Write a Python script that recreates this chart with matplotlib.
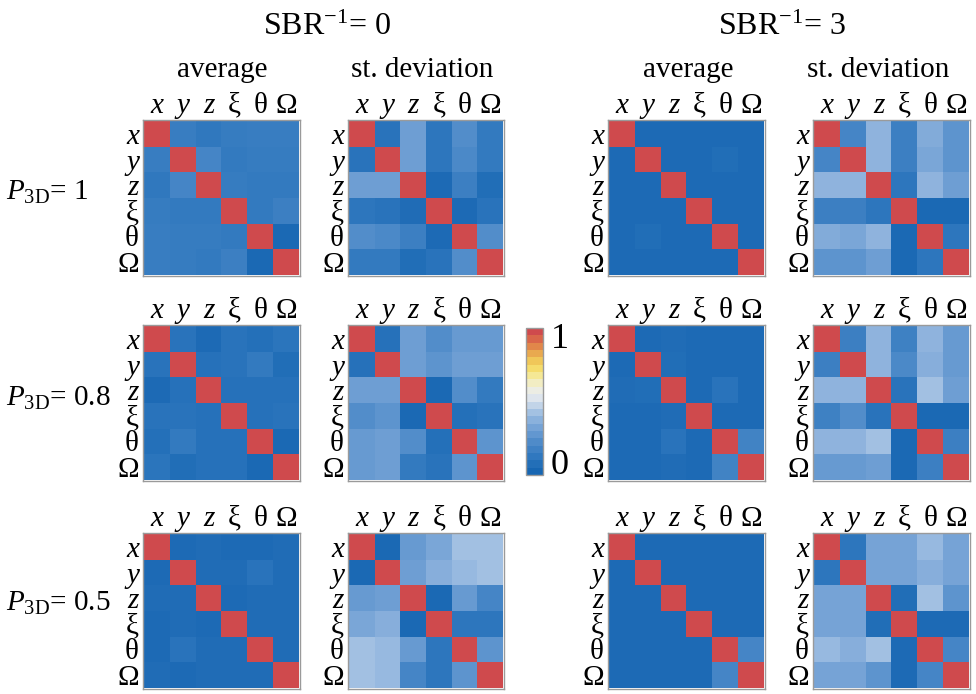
import numpy as np
import matplotlib
matplotlib.use("Agg")
import matplotlib.pyplot as plt
from matplotlib.colors import LinearSegmentedColormap, Normalize
from matplotlib.cm import ScalarMappable

plt.rcParams.update(
    {
        "font.family": ["Liberation Serif", "DejaVu Serif"],
        "mathtext.fontset": "custom",
        "mathtext.rm": "Liberation Serif",
        "mathtext.it": "Liberation Serif:italic",
    }
)

# ---- data ---------------------------------------------------------------
params = ["x", "y", "z", "ξ", "θ", "Ω"]
sbr_labels = [r"SBR$^{-1}$= 0", r"SBR$^{-1}$= 3"]
stat_labels = ["average", "st. deviation"]
p3d_labels = [r"$P_{\rm 3D}$= 1", r"$P_{\rm 3D}$= 0.8", r"$P_{\rm 3D}$= 0.5"]

# P3D = 1
avg_p1_sbr0 = [
    [1.00, 0.14, 0.11, 0.13, 0.14, 0.14],
    [0.14, 1.00, 0.18, 0.12, 0.13, 0.13],
    [0.11, 0.18, 1.00, 0.13, 0.12, 0.12],
    [0.13, 0.12, 0.12, 1.00, 0.12, 0.15],
    [0.14, 0.13, 0.13, 0.12, 1.00, 0.02],
    [0.14, 0.13, 0.12, 0.15, 0.02, 1.00],
]
std_p1_sbr0 = [
    [1.00, 0.08, 0.30, 0.10, 0.22, 0.12],
    [0.08, 1.00, 0.30, 0.10, 0.20, 0.12],
    [0.30, 0.30, 1.00, 0.03, 0.15, 0.05],
    [0.10, 0.08, 0.04, 1.00, 0.03, 0.08],
    [0.22, 0.20, 0.15, 0.03, 1.00, 0.22],
    [0.12, 0.12, 0.05, 0.08, 0.22, 1.00],
]
avg_p1_sbr3 = [
    [1.00, 0.03, 0.03, 0.03, 0.03, 0.03],
    [0.03, 1.00, 0.03, 0.03, 0.05, 0.03],
    [0.03, 0.03, 1.00, 0.03, 0.03, 0.03],
    [0.03, 0.03, 0.03, 1.00, 0.03, 0.03],
    [0.03, 0.05, 0.03, 0.03, 1.00, 0.03],
    [0.03, 0.03, 0.03, 0.03, 0.03, 1.00],
]
std_p1_sbr3 = [
    [1.00, 0.18, 0.38, 0.15, 0.35, 0.25],
    [0.18, 1.00, 0.38, 0.15, 0.33, 0.25],
    [0.38, 0.38, 1.00, 0.10, 0.38, 0.30],
    [0.15, 0.15, 0.10, 1.00, 0.02, 0.02],
    [0.35, 0.33, 0.38, 0.02, 1.00, 0.10],
    [0.25, 0.25, 0.30, 0.02, 0.10, 1.00],
]

# P3D = 0.8
avg_p08_sbr0 = [
    [1.00, 0.08, 0.03, 0.08, 0.06, 0.09],
    [0.08, 1.00, 0.07, 0.08, 0.12, 0.05],
    [0.03, 0.07, 1.00, 0.07, 0.07, 0.07],
    [0.08, 0.08, 0.07, 1.00, 0.07, 0.08],
    [0.06, 0.12, 0.07, 0.07, 1.00, 0.02],
    [0.09, 0.05, 0.07, 0.07, 0.02, 1.00],
]
std_p08_sbr0 = [
    [1.00, 0.07, 0.30, 0.22, 0.28, 0.28],
    [0.07, 1.00, 0.30, 0.25, 0.30, 0.30],
    [0.30, 0.30, 1.00, 0.02, 0.22, 0.12],
    [0.22, 0.25, 0.02, 1.00, 0.06, 0.08],
    [0.28, 0.30, 0.22, 0.06, 1.00, 0.25],
    [0.28, 0.30, 0.12, 0.08, 0.25, 1.00],
]
avg_p08_sbr3 = [
    [1.00, 0.03, 0.04, 0.03, 0.03, 0.03],
    [0.03, 1.00, 0.05, 0.03, 0.03, 0.03],
    [0.04, 0.05, 1.00, 0.03, 0.08, 0.03],
    [0.03, 0.03, 0.04, 1.00, 0.03, 0.03],
    [0.03, 0.03, 0.08, 0.03, 1.00, 0.17],
    [0.03, 0.03, 0.04, 0.03, 0.17, 1.00],
]
std_p08_sbr3 = [
    [1.00, 0.15, 0.38, 0.16, 0.38, 0.28],
    [0.15, 1.00, 0.38, 0.20, 0.36, 0.28],
    [0.38, 0.38, 1.00, 0.08, 0.42, 0.30],
    [0.16, 0.22, 0.08, 1.00, 0.02, 0.02],
    [0.38, 0.38, 0.42, 0.02, 1.00, 0.15],
    [0.28, 0.28, 0.30, 0.02, 0.15, 1.00],
]

# P3D = 0.5
avg_p05_sbr0 = [
    [1.00, 0.03, 0.04, 0.03, 0.03, 0.04],
    [0.03, 1.00, 0.04, 0.04, 0.08, 0.04],
    [0.04, 0.04, 1.00, 0.03, 0.04, 0.04],
    [0.03, 0.04, 0.03, 1.00, 0.04, 0.04],
    [0.03, 0.08, 0.04, 0.04, 1.00, 0.04],
    [0.04, 0.03, 0.04, 0.04, 0.04, 1.00],
]
std_p05_sbr0 = [
    [1.00, 0.02, 0.28, 0.33, 0.42, 0.42],
    [0.02, 1.00, 0.30, 0.36, 0.40, 0.42],
    [0.28, 0.30, 1.00, 0.02, 0.28, 0.18],
    [0.33, 0.36, 0.02, 1.00, 0.10, 0.10],
    [0.42, 0.40, 0.28, 0.10, 1.00, 0.25],
    [0.42, 0.40, 0.18, 0.10, 0.25, 1.00],
]
avg_p05_sbr3 = [
    [1.00, 0.03, 0.03, 0.03, 0.03, 0.03],
    [0.03, 1.00, 0.03, 0.03, 0.03, 0.03],
    [0.03, 0.03, 1.00, 0.03, 0.03, 0.03],
    [0.03, 0.03, 0.03, 1.00, 0.03, 0.03],
    [0.03, 0.03, 0.03, 0.03, 1.00, 0.18],
    [0.03, 0.03, 0.03, 0.03, 0.18, 1.00],
]
std_p05_sbr3 = [
    [1.00, 0.10, 0.32, 0.32, 0.40, 0.32],
    [0.10, 1.00, 0.32, 0.32, 0.36, 0.32],
    [0.32, 0.32, 1.00, 0.05, 0.42, 0.25],
    [0.32, 0.32, 0.05, 1.00, 0.03, 0.03],
    [0.40, 0.36, 0.42, 0.03, 1.00, 0.18],
    [0.32, 0.32, 0.25, 0.03, 0.18, 1.00],
]

panels = [
    [avg_p1_sbr0, std_p1_sbr0, avg_p1_sbr3, std_p1_sbr3],
    [avg_p08_sbr0, std_p08_sbr0, avg_p08_sbr3, std_p08_sbr3],
    [avg_p05_sbr0, std_p05_sbr0, avg_p05_sbr3, std_p05_sbr3],
]

# ---- style --------------------------------------------------------------
cmap = LinearSegmentedColormap.from_list(
    "bwyr",
    [
        (0.00, "#1766b2"),
        (0.10, "#2e77be"),
        (0.20, "#4b89c8"),
        (0.30, "#6f9fd4"),
        (0.40, "#97b9e0"),
        (0.50, "#d2deeb"),
        (0.55, "#e9ecee"),
        (0.60, "#efeedc"),
        (0.65, "#f3ecb4"),
        (0.70, "#f6e687"),
        (0.75, "#f4d862"),
        (0.80, "#efc257"),
        (0.85, "#e8a44d"),
        (0.90, "#e0844a"),
        (0.95, "#d9644a"),
        (1.00, "#cf4a4d"),
    ],
)

W, H = 976, 694
col_x = [(143, 300), (348, 504), (608, 765), (813, 970)]
row_y = [(120, 276), (325, 481), (533, 689)]


def px_axes(fig, x0, y0, x1, y1):
    return fig.add_axes([x0 / W, 1 - y1 / H, (x1 - x0) / W, (y1 - y0) / H])


fig = plt.figure(figsize=(W / 100, H / 100), dpi=100)

for r, row in enumerate(panels):
    for c, mat in enumerate(row):
        ax = px_axes(fig, col_x[c][0], row_y[r][0], col_x[c][1], row_y[r][1])
        ax.imshow(np.array(mat), cmap=cmap, vmin=0, vmax=1, extent=(-0.5, 5.5, 5.5, -0.5))
        ax.set_xlim(-0.55, 5.55)
        ax.set_ylim(5.55, -0.55)
        ax.set_aspect("auto")
        ax.xaxis.tick_top()
        ax.set_xticks(range(6))
        ax.set_yticks(range(6))
        ax.set_xticklabels(params, fontsize=21)
        ax.set_yticklabels(params, fontsize=21)
        ax.tick_params(length=0, pad=1)
        ax.tick_params(axis="y", pad=3)
        for lbl in ax.get_xticklabels()[:3] + ax.get_yticklabels()[:3]:
            lbl.set_fontstyle("italic")
        for s in ax.spines.values():
            s.set_color("#9a9a9a")
            s.set_linewidth(1.0)

# headers
for k, txt in enumerate(sbr_labels):
    fig.text((327 if k == 0 else 782) / W, 1 - 27 / H, txt, ha="center", va="center", fontsize=23)
for c, cx in enumerate([222, 422, 688, 878]):
    fig.text(cx / W, 1 - 70 / H, stat_labels[c % 2], ha="center", va="center", fontsize=21)
for r, yc in enumerate([192, 398, 603]):
    fig.text(6 / W, 1 - yc / H, p3d_labels[r], ha="left", va="center", fontsize=21)

# colorbar
cax = px_axes(fig, 526, 328, 543, 475)
sm = ScalarMappable(norm=Normalize(0, 1), cmap=cmap.resampled(20))
cb = fig.colorbar(sm, cax=cax)
cb.set_ticks([])
cb.outline.set_edgecolor("#9a9a9a")
cb.outline.set_linewidth(1.0)
fig.text(551 / W, 1 - 340 / H, "1", ha="left", va="center", fontsize=26)
fig.text(551 / W, 1 - 466 / H, "0", ha="left", va="center", fontsize=26)

fig.savefig("out.png", dpi=100)
